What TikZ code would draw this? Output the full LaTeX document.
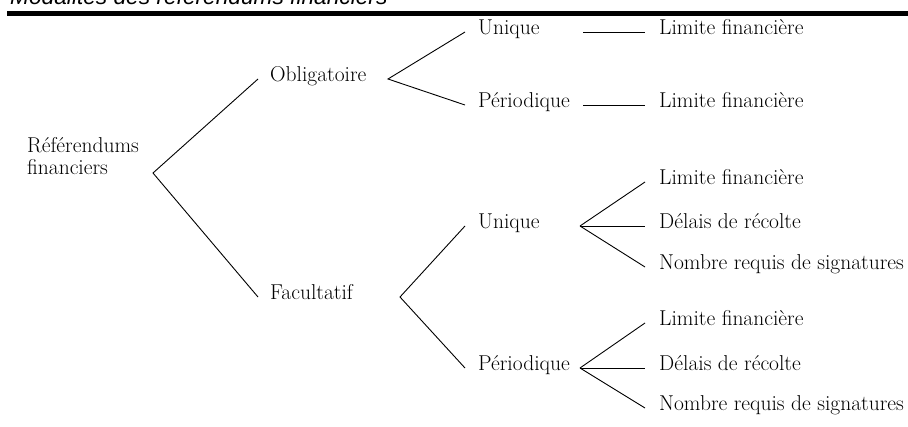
\documentclass[tikz,border=0pt]{standalone}
\usepackage{fontspec}
\newfontfamily\titlefont{Liberation Sans}
\usepackage{tikz}

\tikzset{
  lbl/.style={anchor=west,inner sep=0pt,text height=1.5ex,text depth=.25ex,
    font=\fontsize{21.5}{22}\selectfont},
  branch/.style={line width=0.9pt}
}

\begin{document}
\begin{tikzpicture}[x=1pt,y=-1pt]
        \useasboundingbox(0,0)rectangle(908,426);
        % title, cut at the top
        \node[anchor=base west,inner sep=0pt,font=\titlefont\itshape\fontsize{22.7}{26}\selectfont](title)at(10,4){Modalités des référendums financiers};
        \fill(7,11)rectangle(908,16);
        % labels
        \node[lbl,align=left](root)at(27,172){Référendums\\financiers};
        \node[lbl](obl)at(270,79){Obligatoire};
        \node[lbl](fac)at(270,297){Facultatif};
        \node[lbl](oblU)at(478,32){Unique};
        \node[lbl](oblP)at(478,105){Périodique};
        \node[lbl](oblUL)at(659,32){Limite financière};
        \node[lbl](oblPL)at(659,105){Limite financière};
        \node[lbl](facU)at(478,226){Unique};
        \node[lbl](facP)at(478,368){Périodique};
        \node[lbl](facU1)at(659,182){Limite financière};
        \node[lbl](facU2)at(659,226){Délais de récolte};
        \node[lbl](facU3)at(659,267){Nombre requis de signatures};
        \node[lbl](facP1)at(659,323){Limite financière};
        \node[lbl](facP2)at(659,368){Délais de récolte};
        \node[lbl](facP3)at(659,408){Nombre requis de signatures};
        % forks
        \coordinate(rootF)at(153,173);
        \coordinate(oblF)at(388,79);
        \coordinate(facF)at(400,297);
        \coordinate(facUF)at(580,226);
        \coordinate(facPF)at(580,368);
        \draw[branch]([xshift=-12pt]obl.west)--(rootF)--([xshift=-12pt]fac.west);
        \draw[branch]([xshift=-13pt]oblU.west)--(oblF)--([xshift=-13pt]oblP.west);
        \draw[branch]([xshift=-13pt]facU.west)--(facF)--([xshift=-13pt]facP.west);
        \draw[branch]([xshift=-76pt]oblUL.west)--([xshift=-14pt]oblUL.west);
        \draw[branch]([xshift=-76pt]oblPL.west)--([xshift=-14pt]oblPL.west);
        \foreach \k in{1,2,3}{
        \draw[branch](facUF)--([xshift=-14pt]facU\k.west);
        \draw[branch](facPF)--([xshift=-14pt]facP\k.west);
        }
    \end{tikzpicture}
\end{document}
